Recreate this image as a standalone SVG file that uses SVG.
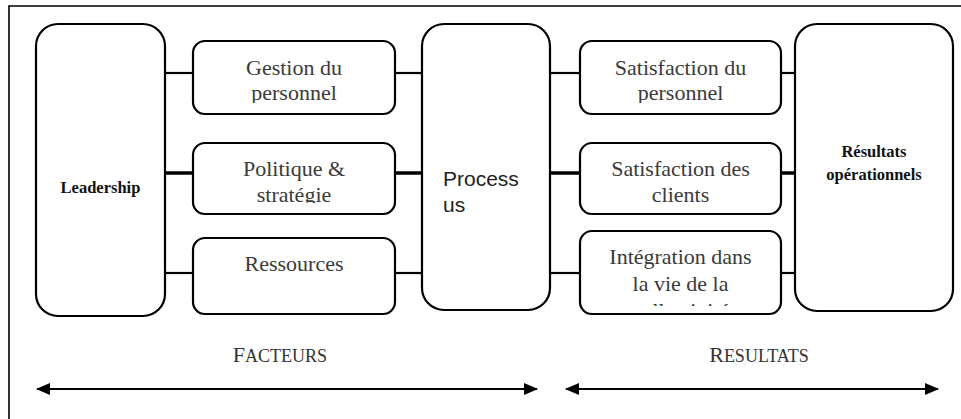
<svg xmlns="http://www.w3.org/2000/svg" width="961" height="419" viewBox="0 0 961 419">
<style>
.box{fill:#fff;stroke:#000;stroke-width:2.2}
.t{font-family:"Liberation Serif","Times New Roman",serif;font-size:22px;fill:#3a3a3a;text-anchor:middle}
.b{font-family:"Liberation Serif","Times New Roman",serif;font-size:16.5px;font-weight:bold;fill:#111;text-anchor:middle}
.p{font-family:"Liberation Sans",Arial,sans-serif;font-size:21px;fill:#222}
.sc{font-family:"Liberation Serif","Times New Roman",serif;font-size:18px;fill:#333;text-anchor:middle}
.c{stroke:#000;stroke-width:2.2;fill:none}
.c2{stroke:#000;stroke-width:3.5;fill:none}
.a{stroke:#000;stroke-width:2.2;fill:none}
</style>
<defs>
<marker id="ah" viewBox="0 0 14 12" refX="13" refY="6" markerWidth="14" markerHeight="12" markerUnits="userSpaceOnUse" orient="auto-start-reverse">
<path d="M0,0 L14,6 L0,12 Z" fill="#000"/>
</marker>
<clipPath id="c1"><rect x="193" y="41" width="202" height="62"/></clipPath>
<clipPath id="c2"><rect x="193" y="143" width="202" height="60"/></clipPath>
<clipPath id="c3"><rect x="193" y="238" width="202" height="66"/></clipPath>
<clipPath id="c4"><rect x="580" y="41" width="201" height="62"/></clipPath>
<clipPath id="c5"><rect x="580" y="143" width="201" height="60"/></clipPath>
<clipPath id="c6"><rect x="580" y="231" width="201" height="75"/></clipPath>
</defs>
<rect width="961" height="419" fill="#fff"/>
<g id="frame">
<path d="M9,419 L9,6 L961,6" fill="none" stroke="#000" stroke-width="1.6"/>
</g>
<g id="connectors">
<line class="c" x1="165" y1="73" x2="193" y2="73"/>
<line class="c2" x1="165" y1="173" x2="193" y2="173"/>
<line class="c" x1="165" y1="273" x2="193" y2="273"/>
<line class="c" x1="395" y1="73" x2="422" y2="73"/>
<line class="c2" x1="395" y1="173" x2="422" y2="173"/>
<line class="c" x1="395" y1="273" x2="422" y2="273"/>
<line class="c" x1="550" y1="73" x2="580" y2="73"/>
<line class="c2" x1="550" y1="173" x2="580" y2="173"/>
<line class="c" x1="550" y1="273" x2="580" y2="273"/>
<line class="c" x1="781" y1="73" x2="795" y2="73"/>
<line class="c2" x1="781" y1="173" x2="795" y2="173"/>
<line class="c" x1="781" y1="273" x2="795" y2="273"/>
<line class="a" x1="37" y1="389" x2="537" y2="389" marker-start="url(#ah)" marker-end="url(#ah)"/>
<line class="a" x1="566" y1="389" x2="938" y2="389" marker-start="url(#ah)" marker-end="url(#ah)"/>
</g>
<g id="leadership">
<rect class="box" x="36" y="24" width="129" height="292" rx="22"/>
<text class="b" x="100.5" y="193">Leadership</text>
</g>
<g id="gestion">
<rect class="box" x="193" y="41" width="202" height="73" rx="12"/>
<text class="t" clip-path="url(#c1)" x="294" y="75">Gestion du<tspan x="294" y="100">personnel</tspan></text>
</g>
<g id="politique">
<rect class="box" x="193" y="143" width="202" height="71" rx="12"/>
<text class="t" clip-path="url(#c2)" x="294" y="176">Politique &amp;<tspan x="294" y="202">stratégie</tspan></text>
</g>
<g id="ressources">
<rect class="box" x="193" y="238" width="202" height="76" rx="12"/>
<text class="t" clip-path="url(#c3)" x="294" y="271">Ressources</text>
</g>
<g id="processus">
<rect class="box" x="422" y="24" width="128" height="286" rx="22"/>
<text class="p" x="443" y="186">Process<tspan x="443" y="212">us</tspan></text>
</g>
<g id="satisfaction-personnel">
<rect class="box" x="580" y="41" width="201" height="73" rx="12"/>
<text class="t" clip-path="url(#c4)" x="680.5" y="75">Satisfaction du<tspan x="680.5" y="100">personnel</tspan></text>
</g>
<g id="satisfaction-clients">
<rect class="box" x="580" y="143" width="201" height="71" rx="12"/>
<text class="t" clip-path="url(#c5)" x="680.5" y="176">Satisfaction des<tspan x="680.5" y="202">clients</tspan></text>
</g>
<g id="integration">
<rect class="box" x="580" y="231" width="201" height="83" rx="12"/>
<text class="t" clip-path="url(#c6)" x="680.5" y="264">Intégration dans<tspan x="680.5" y="291">la vie de la</tspan><tspan x="680.5" y="318">collectivité</tspan></text>
</g>
<g id="resultats-operationnels">
<rect class="box" x="795" y="24" width="158" height="287" rx="22"/>
<text class="b" x="874" y="157">Résultats<tspan x="874" y="180">opérationnels</tspan></text>
</g>
<g id="labels">
<text class="sc" x="280" y="362"><tspan font-size="22">F</tspan>ACTEURS</text>
<text class="sc" x="759" y="362"><tspan font-size="22">R</tspan>ESULTATS</text>
</g>
</svg>
